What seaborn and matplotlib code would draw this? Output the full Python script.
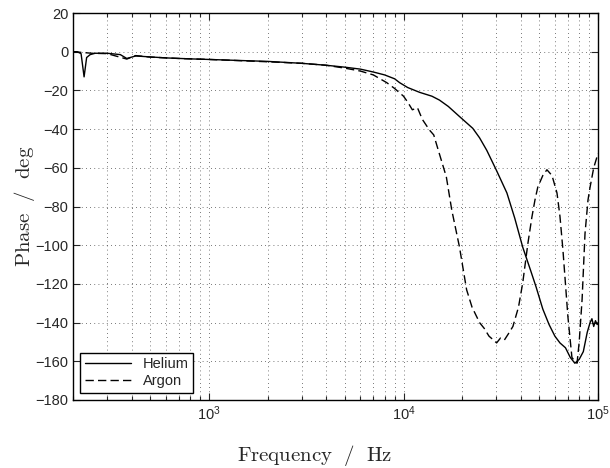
import numpy as np
import pandas as pd
import matplotlib
matplotlib.use('Agg')
import matplotlib.pyplot as plt
import matplotlib.ticker as mticker
import seaborn as sns

# values
helium_freq = [200, 210, 220, 228, 235, 245, 260, 300, 350, 378, 420, 500, 600, 800, 1000,
               1500, 2000, 3000, 4000, 5000, 6000, 7000, 8000, 9000, 9550, 10500, 12100,
               14000, 15300, 17000, 19400, 22700, 24600, 26800, 30100, 34000, 37300, 41000,
               45000, 48000, 52000, 56000, 60000, 63700, 68000, 72000, 76000, 80000, 84000,
               88000, 91000, 93000, 95000, 97000, 99000, 100000]
helium_phase = [0, 0, -1, -13, -3, -1.5, -0.8, -0.8, -1.5, -3.5, -2.2, -2.7, -3.2, -3.7, -4,
                -4.6, -5, -6, -7, -8, -9, -10.5, -12, -14, -16, -18.5, -21, -23, -25,
                -28.3, -33.5, -39.6, -44.5, -51, -61.5, -73, -86, -101, -113, -121.5, -133,
                -141, -147, -150.5, -153, -158, -161, -159, -155, -145, -140, -138, -142,
                -139, -141, -140]

argon_freq = [200, 250, 300, 378, 420, 500, 700, 1000, 1500, 2000, 3000, 4000, 5000, 6000,
              7000, 8200, 9000, 10000, 10500, 11100, 11800, 12500, 13600, 14300, 15000, 16600,
              17700, 19400, 21100, 22500, 24600, 26000, 27500, 29000, 30100, 31500, 33000,
              34500, 36500, 39000, 41000, 43600, 45700, 47400, 49000, 52000, 54600, 58000,
              61500, 63700, 66000, 70000, 73400, 76000, 78000, 80000, 82800, 85700, 88800,
              91000, 95000, 100000]
argon_phase = [0, -0.8, -1, -3.8, -2, -2.8, -3.5, -4, -4.7, -5.2, -6, -7, -8.5, -10,
               -12, -16, -19, -23, -26, -30, -29, -35, -40.5, -43, -50, -64.7,
               -81.8, -101, -123, -132, -140, -143, -147, -149, -150.5, -148, -149,
               -146, -142, -132, -119.5, -99, -85.5, -76.6, -70, -64, -61, -64,
               -73, -85, -102.5, -137, -158, -160, -161, -150, -128, -94, -76.6,
               -70, -60, -52.5]

df = pd.concat([
    pd.DataFrame({'f': helium_freq, 'phase': helium_phase, 'gas': 'Helium'}),
    pd.DataFrame({'f': argon_freq, 'phase': argon_phase, 'gas': 'Argon'}),
])

sns.set_style('ticks')
plt.rcParams['font.family'] = ['Liberation Sans', 'DejaVu Sans']

fig = plt.figure(figsize=(6.1, 4.68), dpi=100)
ax = fig.add_axes([0.1197, 0.1453, 0.8607, 0.8269])

sns.lineplot(data=df, x='f', y='phase', hue='gas', style='gas', estimator=None, sort=False,
             palette={'Helium': 'k', 'Argon': 'k'},
             dashes={'Helium': '', 'Argon': (6, 3)}, linewidth=1.0, ax=ax)

ax.set_xscale('log')
ax.set_xlim(200, 1e5)
ax.set_ylim(-180, 20)
ax.yaxis.set_major_locator(mticker.MultipleLocator(20))
ax.yaxis.set_minor_locator(mticker.NullLocator())

ax.grid(True, which='major', linestyle=(0, (1, 4)), color='k', linewidth=0.6, alpha=0.7)
ax.xaxis.grid(True, which='minor', linestyle=(0, (1, 4)), color='k', linewidth=0.6, alpha=0.7)

ax.tick_params(which='both', direction='in', top=True, right=True, labelsize=10.5, width=0.8)
ax.tick_params(which='major', length=5)
ax.tick_params(which='minor', length=3)
for s in ax.spines.values():
    s.set_linewidth(1.0)
    s.set_color('k')

ax.set_xlabel(r'$\mathrm{Frequency\ \ /\ \ Hz}$', fontsize=15, math_fontfamily='cm')
ax.set_ylabel(r'$\mathrm{Phase\ \ /\ \ deg}$', fontsize=15, math_fontfamily='cm')
ax.xaxis.set_label_coords(0.461, -0.112)
ax.yaxis.set_label_coords(-0.069, 0.5)

leg = ax.legend(loc='lower left', fontsize=10.5, frameon=True, fancybox=False,
                edgecolor='k', framealpha=1, borderpad=0.3, handlelength=3.2,
                labelspacing=0.2, borderaxespad=0.5)
leg.set_title(None)
leg.get_frame().set_linewidth(1.0)

fig.savefig('out.png', dpi=100)
